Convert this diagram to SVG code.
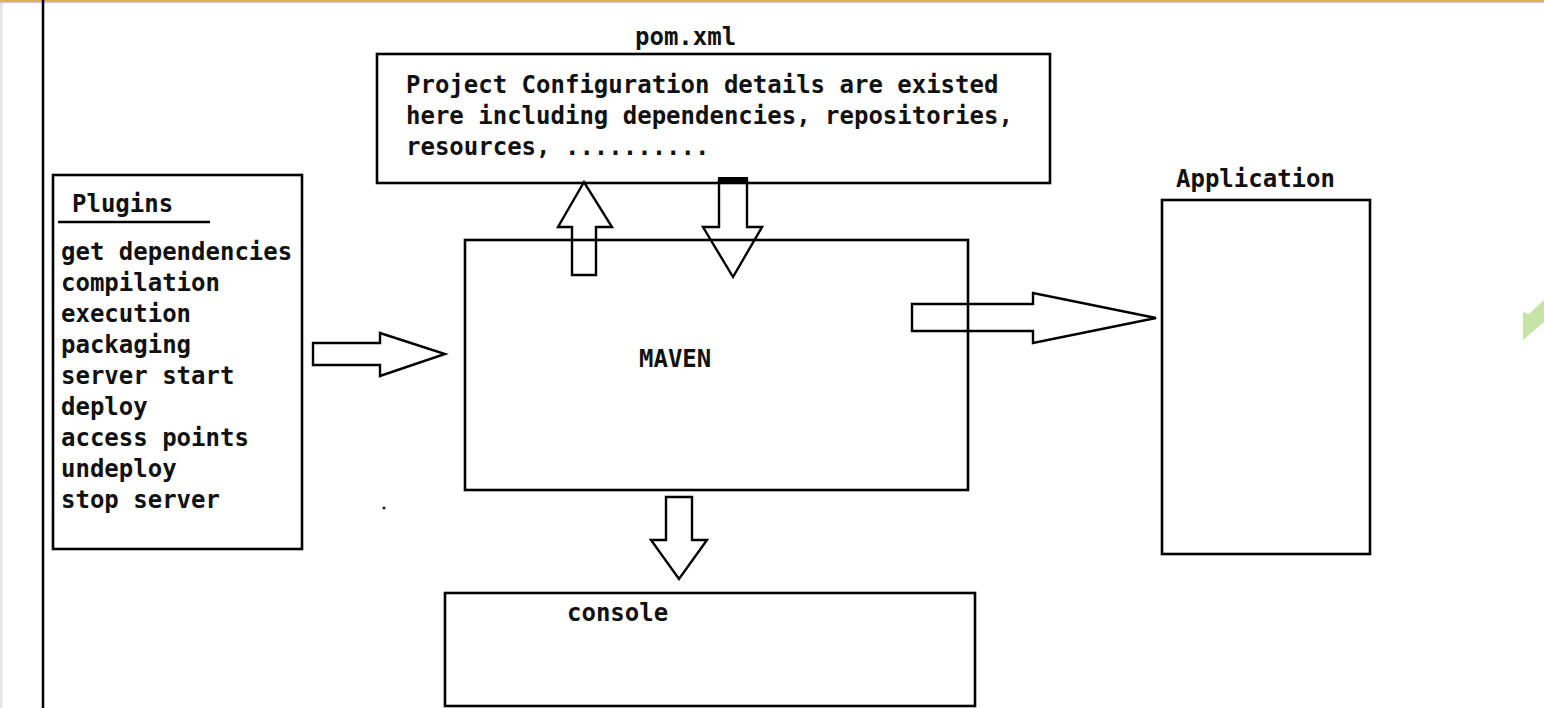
<svg xmlns="http://www.w3.org/2000/svg" width="1544" height="708" viewBox="0 0 1544 708">
<style>
.box{fill:none;stroke:#000;stroke-width:2.6}
.arr{fill:none;stroke:#000;stroke-width:2.4;stroke-linejoin:miter}
.t{font-family:"DejaVu Sans Mono","Liberation Mono",monospace;font-weight:bold;font-size:24px;fill:#111}
</style>
<rect x="0" y="0" width="1544" height="708" fill="#fff"/>
<rect x="0" y="0" width="2.5" height="708" fill="#e4e4e4"/>
<rect x="0" y="0" width="1544" height="2" fill="#d8b552"/>
<rect x="0" y="2" width="1544" height="1.2" fill="#d0d0d0"/>
<line x1="43" y1="0" x2="43" y2="708" stroke="#000" stroke-width="2.5"/>
<polygon points="1523,312 1529,314 1544,300 1544,322 1523,340" fill="#c6e4a8"/>

<g id="pom">
<text class="t" x="635" y="45">pom.xml</text>
<rect class="box" x="377" y="54" width="673" height="129"/>
<text class="t" x="406" y="92.5">Project Configuration details are existed</text>
<text class="t" x="406" y="123.5">here including dependencies, repositories,</text>
<text class="t" x="406" y="155">resources, ..........</text>
</g>

<g id="plugins">
<rect class="box" x="53" y="175" width="249" height="374"/>
<text class="t" x="72" y="212">Plugins</text>
<line x1="58" y1="222" x2="210" y2="222" stroke="#000" stroke-width="2.4"/>
<text class="t" x="61" y="260">get dependencies</text>
<text class="t" x="61" y="291">compilation</text>
<text class="t" x="61" y="322">execution</text>
<text class="t" x="61" y="353">packaging</text>
<text class="t" x="61" y="384">server start</text>
<text class="t" x="61" y="415">deploy</text>
<text class="t" x="61" y="446">access points</text>
<text class="t" x="61" y="477">undeploy</text>
<text class="t" x="61" y="508">stop server</text>
</g>

<g id="maven">
<rect class="box" x="465" y="240" width="503" height="250"/>
<text class="t" x="639" y="367">MAVEN</text>
</g>

<g id="application">
<text class="t" x="1176" y="187">Application</text>
<rect class="box" x="1162" y="200" width="208" height="354"/>
</g>

<g id="console">
<rect class="box" x="445" y="593" width="530" height="113"/>
<text class="t" x="567" y="621">console</text>
</g>

<circle cx="384" cy="508" r="1.6" fill="#222"/>

<g id="connectors">
<polygon class="arr" points="313,343 380,343 380,333 445,354 380,376 380,365 313,365"/>
<polygon class="arr" points="912,304 1033,304 1033,293 1156,318 1033,343 1033,331 912,331"/>
<polygon class="arr" points="572,275 596,275 596,227 612,227 584,182 558,227 572,227"/>
<polygon class="arr" points="719,180 747,180 747,227 762,227 733,277 703,227 719,227"/>
<rect x="718" y="177" width="30" height="6" fill="#000"/>
<polygon class="arr" points="666,497 692,497 692,540 707,540 679,579 651,540 666,540"/>
</g>
</svg>
